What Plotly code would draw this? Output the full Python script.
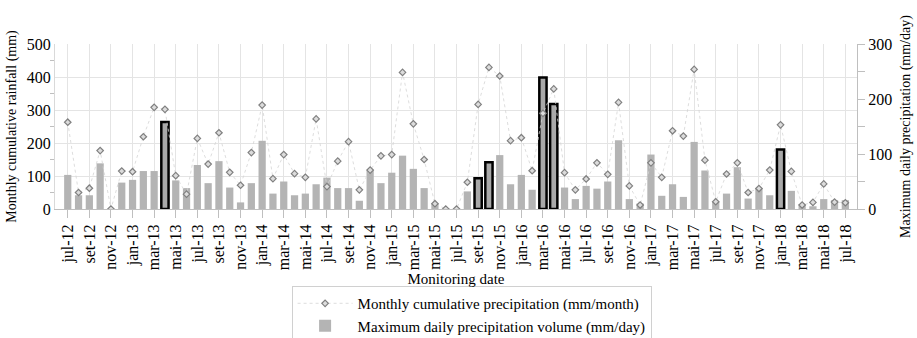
import plotly.graph_objects as go

months = []
pt = ["jan", "fev", "mar", "abr", "mai", "jun", "jul", "ago", "set", "out", "nov", "dez"]
for i in range(73):
    m = (6 + i) % 12
    y = 12 + (6 + i) // 12
    months.append(f"{pt[m]}-{y}")

monthly_cumulative = [263, 50, 63, 177, 0, 115, 113, 219, 308, 302, 101, 45,
                      214, 136, 231, 111, 72, 171, 315, 92, 165, 107, 96, 273,
                      68, 145, 204, 58, 118, 161, 165, 414, 258, 150, 16, 0,
                      0, 81, 317, 429, 403, 207, 216, 116, 290, 364, 110, 58,
                      91, 140, 105, 323, 70, 12, 140, 96, 237, 221, 423, 148,
                      22, 106, 140, 50, 62, 118, 255, 114, 12, 20, 76, 21, 19]

max_daily = [62, 25, 25, 83, 0, 48, 53, 69, 69, 158, 52, 38,
             80, 47, 87, 39, 12, 47, 124, 28, 50, 25, 28, 45,
             57, 38, 38, 15, 71, 47, 66, 97, 73, 38, 10, 0,
             0, 32, 56, 85, 98, 45, 62, 35, 239, 191, 39, 18,
             42, 37, 50, 125, 18, 10, 99, 24, 45, 22, 122, 70,
             13, 28, 76, 19, 38, 25, 108, 33, 9, 5, 18, 16, 16]

highlighted = ["abr-13", "set-15", "out-15", "mar-16", "abr-16", "jan-18"]

x_idx = list(range(len(months)))
tick_idx = x_idx[::2]
tick_txt = [months[i] for i in tick_idx]

is_hl = [m in highlighted for m in months]
bar_fill = ["#a9a9a9" if h else "#b4b4b4" for h in is_hl]
bar_line_c = ["#000000" if h else "rgba(0,0,0,0)" for h in is_hl]
bar_line_w = [2.5 if h else 0 for h in is_hl]

FONT = "Liberation Serif"

fig = go.Figure()
fig.add_trace(go.Bar(
    x=x_idx, y=max_daily, yaxis="y",
    name="Maximum daily precipitation volume (mm/day)",
    marker=dict(color=bar_fill, line=dict(color=bar_line_c, width=bar_line_w)),
))
fig.add_trace(go.Scatter(
    x=x_idx, y=monthly_cumulative, yaxis="y2", mode="lines+markers",
    name="Monthly cumulative precipitation (mm/month)",
    line=dict(color="#d4d4d4", width=0.8, dash="dot"),
    marker=dict(symbol="diamond", size=5, color="#dcdcdc",
                line=dict(color="#808080", width=1.2)),
))

fig.update_layout(
    width=917, height=338,
    margin=dict(l=55, r=60, t=44, b=129, autoexpand=False),
    paper_bgcolor="white", plot_bgcolor="white",
    font=dict(family=FONT, size=15, color="#000000"),
    bargap=0.33,
    showlegend=True,
    legend=dict(
        x=0.295, y=-0.467, xanchor="left", yanchor="top",
        bordercolor="#d0d0d0", borderwidth=1,
        font=dict(family=FONT, size=15),
        traceorder="reversed", tracegroupgap=0,
        itemwidth=55,
    ),
    xaxis=dict(
        range=[-1.18, 73.08], automargin=False,
        tickmode="array", tickvals=tick_idx, ticktext=tick_txt,
        tickangle=-90, ticks="outside", ticklen=8, tickcolor="#bfbfbf",
        showgrid=True, gridcolor="#e4e4e4", gridwidth=1,
        showline=True, linecolor="#bfbfbf", linewidth=1,
        tickfont=dict(family=FONT, size=16),
        title=dict(text="Monitoring date", font=dict(family=FONT, size=15), standoff=4),
        zeroline=False,
    ),
    yaxis=dict(
        side="right", range=[0, 300], dtick=100, automargin=False,
        ticks="outside", ticklen=7, tickcolor="#bfbfbf",
        minor=dict(dtick=50, ticks="outside", ticklen=7, tickcolor="#bfbfbf"),
        showgrid=False, zeroline=False,
        showline=True, linecolor="#bfbfbf", linewidth=1,
        tickfont=dict(family=FONT, size=16),
        title=dict(text="Maximum daily precipitation (mm/day)", font=dict(family=FONT, size=14), standoff=8),
    ),
    yaxis2=dict(
        side="left", overlaying="y", range=[0, 500], dtick=100, automargin=False,
        ticks="",
        minor=dict(dtick=50, ticks="outside", ticklen=4, tickcolor="#bfbfbf"),
        showgrid=True, gridcolor="#e4e4e4", gridwidth=1, zeroline=False,
        showline=True, linecolor="#d9d9d9", linewidth=1,
        tickfont=dict(family=FONT, size=16),
        title=dict(text="Monthly cumulative rainfall (mm)", font=dict(family=FONT, size=14), standoff=6),
    ),
)

fig.write_html("out.html")
